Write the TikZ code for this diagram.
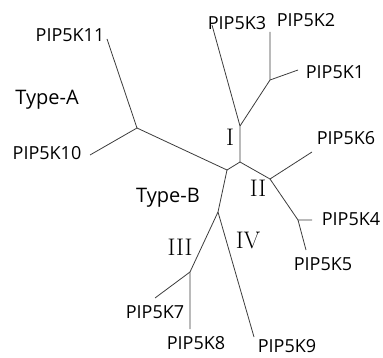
\documentclass[tikz,border=0pt]{standalone}
\usepackage{fontspec}
\newfontfamily\labelfont{Open Sans}
\usepackage{tikz}

\tikzset{
  branch/.style={draw={rgb,255:red,60;green,60;blue,60},line width=0.8pt},
  leaf/.style={inner sep=0.75pt,font=\labelfont\fontsize{18}{20}\selectfont},
  group/.style={inner sep=0.75pt,font=\labelfont\fontsize{20}{22}\selectfont},
  clade/.style={inner sep=0.75pt,font=\rmfamily\fontsize{24}{26}\selectfont}
}

\begin{document}
\begin{tikzpicture}[x=1pt,y=1pt,yscale=-1,xscale=1]
\useasboundingbox (0,0) rectangle (383,358);

% inner junctions
\coordinate (jA) at (137,128);
\coordinate (jB) at (227,170);
\coordinate (jC) at (240,162);
\coordinate (jI) at (240,126);
\coordinate (j12) at (270,80);
\coordinate (jII) at (270,179);
\coordinate (j45) at (298,220);
\coordinate (jD) at (218,212);
\coordinate (jIII) at (190,272);

% leaf ends
\coordinate (e11) at (107,39);
\coordinate (e10) at (90,155);
\coordinate (e3) at (212,25);
\coordinate (e2) at (270,32);
\coordinate (e1) at (298,70);
\coordinate (e6) at (312,152);
\coordinate (e4) at (312,220);
\coordinate (e5) at (306,250);
\coordinate (e9) at (254,337);
\coordinate (e8) at (190,329);
\coordinate (e7) at (155,298);

%Straight Lines
\draw [branch] (e11) -- (jA) -- (e10);
\draw [branch] (jA) -- (jB) -- (jC) -- (jI);
\draw [branch] (jI) -- (e3);
\draw [branch] (jI) -- (j12) -- (e2);
\draw [branch] (j12) -- (e1);
\draw [branch] (jC) -- (jII) -- (e6);
\draw [branch] (jII) -- (j45) -- (e4);
\draw [branch] (j45) -- (e5);
\draw [branch] (jB) -- (jD) -- (e9);
\draw [branch] (jD) -- (jIII) -- (e8);
\draw [branch] (jIII) -- (e7);

% Text Node
\node [leaf] (k11) at (70,35) {PIP5K11};
\node [leaf] (k10) at (47,153) {PIP5K10};
\node [leaf] (k3) at (237,23) {PIP5K3};
\node [leaf] (k2) at (306,20) {PIP5K2};
\node [leaf] (k1) at (335,72) {PIP5K1};
\node [leaf] (k6) at (346,138) {PIP5K6};
\node [leaf] (k4) at (351,219) {PIP5K4};
\node [leaf] (k5) at (323,264) {PIP5K5};
\node [leaf] (k9) at (287,346) {PIP5K9};
\node [leaf] (k8) at (196,343) {PIP5K8};
\node [leaf] (k7) at (155,312) {PIP5K7};
% Text Node
\node [group] (typeA) at (47,100) {Type-A};
\node [group] (typeB) at (168,198) {Type-B};
% Text Node
\node [clade] (cI) at (230,137) {I};
\node [clade] (cII) at (258,188) {II};
\node [clade] (cIII) at (180,247) {III};
\node [clade] (cIV) at (248,240) {IV};
\end{tikzpicture}
\end{document}
